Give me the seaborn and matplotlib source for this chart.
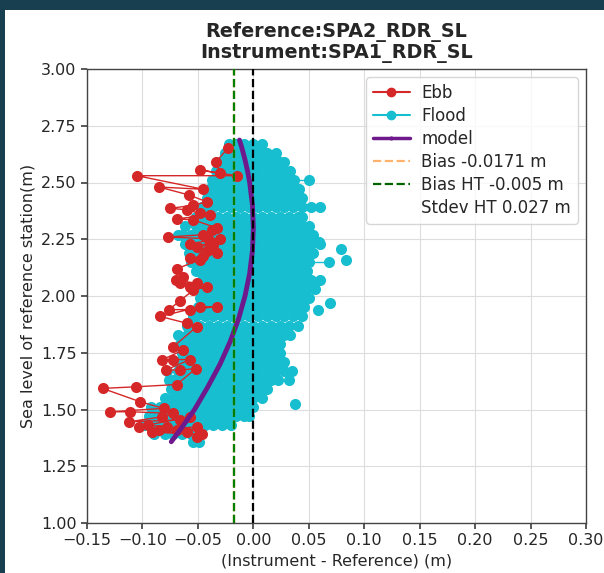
import numpy as np
import pandas as pd
import matplotlib
matplotlib.use("Agg")
import matplotlib.pyplot as plt
from matplotlib.lines import Line2D
from matplotlib.patches import Rectangle
import seaborn as sns

# flood points (y level, x values)
FLOOD_Y = [2.67, 2.63, 2.59, 2.55, 2.51, 2.47, 2.43, 2.39, 2.35, 2.31, 2.27, 2.24, 2.23,
           2.205, 2.19, 2.16, 2.15, 2.11, 2.07, 2.03, 1.99, 1.97, 1.95, 1.94, 1.91, 1.87,
           1.83, 1.79, 1.75, 1.71, 1.67, 1.63, 1.59, 1.55, 1.525, 1.51, 1.47, 1.43, 1.39, 1.355]
FLOOD_X = [
    [-0.022, -0.016, -0.008, 0.000, 0.008],
    [-0.026, -0.020, -0.012, -0.004, 0.004, 0.012, 0.020],
    [-0.030, -0.024, -0.016, -0.008, 0.000, 0.008, 0.016, 0.024, 0.028],
    [-0.034, -0.028, -0.020, -0.012, -0.004, 0.004, 0.012, 0.020, 0.028, 0.033],
    [-0.037, -0.032, -0.024, -0.016, -0.008, 0.000, 0.008, 0.016, 0.024, 0.032, 0.037, 0.050],
    [-0.040, -0.036, -0.028, -0.020, -0.012, -0.004, 0.004, 0.012, 0.020, 0.028, 0.036, 0.041],
    [-0.042, -0.040, -0.032, -0.024, -0.016, -0.008, 0.000, 0.008, 0.016, 0.024, 0.032, 0.040, 0.044],
    [-0.046, -0.044, -0.036, -0.028, -0.020, -0.012, -0.004, 0.004, 0.012, 0.020, 0.028, 0.036, 0.044, 0.052, 0.060],
    [-0.052, -0.048, -0.040, -0.032, -0.024, -0.016, -0.008, 0.000, 0.008, 0.016, 0.024, 0.032, 0.040, 0.044],
    [-0.062, -0.052, -0.044, -0.036, -0.028, -0.020, -0.012, -0.004, 0.004, 0.012, 0.020, 0.028, 0.036, 0.044, 0.050],
    [-0.068, -0.064, -0.056, -0.048, -0.040, -0.032, -0.024, -0.016, -0.008, 0.000, 0.008, 0.016, 0.024, 0.032, 0.040, 0.048, 0.054],
    [0.044, 0.059],
    [-0.062, -0.060, -0.052, -0.044, -0.036, -0.028, -0.020, -0.012, -0.004, 0.004, 0.012, 0.020, 0.028, 0.036, 0.044, 0.052, 0.060],
    [0.079],
    [-0.058, -0.056, -0.048, -0.040, -0.032, -0.024, -0.016, -0.008, 0.000, 0.008, 0.016, 0.024, 0.032, 0.040, 0.048, 0.054],
    [0.084],
    [-0.056, -0.052, -0.044, -0.036, -0.028, -0.020, -0.012, -0.004, 0.004, 0.012, 0.020, 0.028, 0.036, 0.044, 0.050, 0.068],
    [-0.052, -0.048, -0.040, -0.032, -0.024, -0.016, -0.008, 0.000, 0.008, 0.016, 0.024, 0.032, 0.040, 0.048],
    [-0.046, -0.044, -0.036, -0.028, -0.020, -0.012, -0.004, 0.004, 0.012, 0.020, 0.028, 0.036, 0.044, 0.052, 0.060],
    [-0.046, -0.040, -0.032, -0.024, -0.016, -0.008, 0.000, 0.008, 0.016, 0.024, 0.032, 0.040, 0.048, 0.056],
    [-0.048, -0.044, -0.036, -0.028, -0.020, -0.012, -0.004, 0.004, 0.012, 0.020, 0.028, 0.036, 0.044, 0.050],
    [0.069],
    [-0.050, -0.048, -0.040, -0.032, -0.024, -0.016, -0.008, 0.000, 0.008, 0.016, 0.024, 0.032, 0.040, 0.046],
    [0.058],
    [-0.054, -0.052, -0.044, -0.036, -0.028, -0.020, -0.012, -0.004, 0.004, 0.012, 0.020, 0.028, 0.036, 0.044],
    [-0.060, -0.056, -0.048, -0.040, -0.032, -0.024, -0.016, -0.008, 0.000, 0.008, 0.016, 0.024, 0.032, 0.040],
    [-0.068, -0.060, -0.052, -0.044, -0.036, -0.028, -0.020, -0.012, -0.004, 0.004, 0.012, 0.020, 0.028, 0.033],
    [-0.066, -0.064, -0.056, -0.048, -0.040, -0.032, -0.024, -0.016, -0.008, 0.000, 0.008, 0.016, 0.024],
    [-0.064, -0.060, -0.052, -0.044, -0.036, -0.028, -0.020, -0.012, -0.004, 0.004, 0.012, 0.020, 0.024],
    [-0.068, -0.064, -0.056, -0.048, -0.040, -0.032, -0.024, -0.016, -0.008, 0.000, 0.008, 0.016, 0.024, 0.028],
    [-0.078, -0.068, -0.060, -0.052, -0.044, -0.036, -0.028, -0.020, -0.012, -0.004, 0.004, 0.012, 0.020, 0.028, 0.035],
    [-0.076, -0.072, -0.064, -0.056, -0.048, -0.040, -0.032, -0.024, -0.016, -0.008, 0.000, 0.008, 0.016, 0.022, 0.032],
    [-0.074, -0.068, -0.060, -0.052, -0.044, -0.036, -0.028, -0.020, -0.012, -0.004, 0.004, 0.012],
    [-0.080, -0.072, -0.064, -0.056, -0.048, -0.040, -0.032, -0.024, -0.016, -0.008, 0.000, 0.008],
    [0.038],
    [-0.092, -0.084, -0.076, -0.068, -0.060, -0.052, -0.044, -0.036, -0.028, -0.020, -0.012, -0.004, 0.000],
    [-0.094, -0.088, -0.080, -0.072, -0.064, -0.056, -0.048, -0.040, -0.032, -0.024, -0.016, -0.008, -0.004],
    [-0.098, -0.092, -0.084, -0.076, -0.068, -0.060, -0.052, -0.044, -0.036, -0.028, -0.020],
    [-0.090, -0.080, -0.072, -0.064, -0.056, -0.048],
    [-0.054, -0.049],
]

# ebb points in time order
EBB_X = [-0.023, -0.034, -0.030, -0.048, -0.015, -0.105, -0.045, -0.085, -0.058, -0.042,
         -0.054, -0.075, -0.060, -0.048, -0.039, -0.069, -0.054, -0.033, -0.037, -0.045,
         -0.077, -0.030, -0.040, -0.057, -0.036, -0.051, -0.042, -0.033, -0.045, -0.057,
         -0.048, -0.069, -0.063, -0.070, -0.051, -0.066, -0.057, -0.042, -0.054, -0.066,
         -0.076, -0.057, -0.033, -0.048, -0.084, -0.060, -0.051, -0.072, -0.063, -0.082,
         -0.072, -0.057, -0.079, -0.066, -0.052, -0.069, -0.106, -0.136, -0.102, -0.081,
         -0.129, -0.111, -0.072, -0.082, -0.112, -0.066, -0.057, -0.103, -0.095, -0.078,
         -0.069, -0.085, -0.051, -0.060, -0.091, -0.046, -0.051]
EBB_Y = [2.65, 2.59, 2.54, 2.555, 2.53, 2.53, 2.47, 2.48, 2.445, 2.415,
         2.40, 2.386, 2.38, 2.364, 2.357, 2.34, 2.335, 2.30, 2.29, 2.27,
         2.26, 2.25, 2.245, 2.23, 2.225, 2.217, 2.20, 2.19, 2.175, 2.166,
         2.16, 2.12, 2.085, 2.07, 2.056, 2.056, 2.04, 2.04, 2.026, 1.98,
         1.94, 1.94, 1.953, 1.953, 1.91, 1.88, 1.865, 1.777, 1.762, 1.72,
         1.72, 1.72, 1.674, 1.674, 1.68, 1.61, 1.60, 1.593, 1.534, 1.505,
         1.49, 1.49, 1.483, 1.468, 1.446, 1.454, 1.468, 1.424, 1.43, 1.425,
         1.41, 1.41, 1.424, 1.40, 1.40, 1.39, 1.38]

MODEL_Y = [2.687, 2.65, 2.60, 2.55, 2.50, 2.40, 2.30, 2.20, 2.10, 2.00, 1.90, 1.80, 1.70,
           1.60, 1.50, 1.42, 1.358]
MODEL_X = [-0.0125, -0.0102, -0.0075, -0.0052, -0.0033, -0.0008, 0.0, -0.0008, -0.0033,
           -0.0075, -0.0133, -0.0208, -0.030, -0.041, -0.053, -0.0646, -0.074]

BIAS = -0.0171
BIAS_HT_LINE = -0.0171
LABELS = ["Ebb", "Flood", "model", "Bias -0.0171 m", "Bias HT -0.005 m", "Stdev HT 0.027 m"]

EBB_COLOR = "#d62728"
FLOOD_COLOR = "#17becf"
MODEL_COLOR = "#6f1a8c"

rows = []
for i, (y, xs) in enumerate(zip(FLOOD_Y, FLOOD_X)):
    for x in xs:
        rows.append({"row": i, "x": x, "y": y})
flood = pd.DataFrame(rows)
ebb = pd.DataFrame({"x": EBB_X, "y": EBB_Y})
model = pd.DataFrame({"x": MODEL_X, "y": MODEL_Y})

sns.set_theme(style="ticks")
plt.rcParams["font.family"] = ["DejaVu Sans"]

fig = plt.figure(figsize=(6.04, 5.73), dpi=100)
fig.patch.set_facecolor("#173f50")
fig.add_artist(Rectangle((5 / 604, 0), 1, 1 - 10 / 573, transform=fig.transFigure,
                         facecolor="white", edgecolor="none", zorder=0))
ax = fig.add_axes([87 / 604, 50 / 573, 499 / 604, 454 / 573])

sns.lineplot(data=flood, x="x", y="y", units="row", estimator=None, sort=False,
             color=FLOOD_COLOR, marker="o", markersize=8, markeredgewidth=0,
             linewidth=1, ax=ax, zorder=2, legend=False)
sns.lineplot(data=ebb, x="x", y="y", estimator=None, sort=False,
             color=EBB_COLOR, marker="o", markersize=8, markeredgewidth=0,
             linewidth=1, ax=ax, zorder=3, legend=False)
sns.lineplot(data=model, x="x", y="y", estimator=None, sort=False,
             color=MODEL_COLOR, linewidth=3.5, ax=ax, zorder=4, legend=False)

ax.axvline(BIAS, color="#ff7f0e", linestyle="--", linewidth=1.6, zorder=5)
ax.axvline(BIAS_HT_LINE, color="green", linestyle="--", linewidth=1.6, zorder=6)
ax.axvline(0, color="black", linestyle="--", linewidth=1.6, zorder=6)

ax.set_xlim(-0.15, 0.30)
ax.set_ylim(1.0, 3.0)
ax.set_xticks(np.arange(-0.15, 0.301, 0.05))
ax.set_yticks(np.arange(1.0, 3.01, 0.25))
ax.grid(True, color="#dddddd", linewidth=0.8)
ax.set_axisbelow(True)
for s in ax.spines.values():
    s.set_color("#444444")
    s.set_linewidth(1.0)
ax.tick_params(labelsize=11.5, length=4, color="#444444")
ax.set_xlabel("(Instrument - Reference) (m)", fontsize=11.5)
ax.set_ylabel("Sea level of reference station(m)", fontsize=11.5)
ax.set_title("Reference:SPA2_RDR_SL\nInstrument:SPA1_RDR_SL", fontsize=13.8,
             fontweight="bold", linespacing=1.05, pad=8)

handles = [
    Line2D([], [], color=EBB_COLOR, marker="o", markersize=6, linewidth=1.5),
    Line2D([], [], color=FLOOD_COLOR, marker="o", markersize=6, linewidth=1.5),
    Line2D([], [], color=MODEL_COLOR, marker="o", markersize=2, linewidth=2.5),
    Line2D([], [], color="#ff7f0e", linestyle="--", linewidth=1.6, alpha=0.6),
    Line2D([], [], color="darkgreen", linestyle="--", linewidth=1.6),
    Line2D([], [], color="none"),
]
ax.legend(handles, LABELS, loc="upper right", fontsize=12, frameon=True,
          borderaxespad=0.5, handlelength=2.2, labelspacing=0.3, handletextpad=0.7)

fig.savefig("out.png", dpi=100, facecolor=fig.get_facecolor())
